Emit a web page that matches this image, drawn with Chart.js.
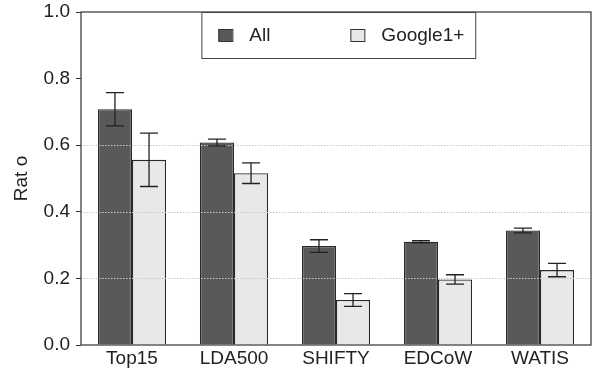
<!DOCTYPE html>
<html>
<head>
<meta charset="utf-8">
<script src="https://cdn.jsdelivr.net/npm/chart.js@4"></script>
<style>
  html, body { margin: 0; padding: 0; background: #fff; }
  #wrap { width: 595px; height: 373px; }
</style>
</head>
<body>
<div id="wrap"><canvas id="chart" width="595" height="373"></canvas></div>
<script>
// === Data ===
const categories = ['Top15', 'LDA500', 'SHIFTY', 'EDCoW', 'WATIS'];
const seriesNames = ['All', 'Google1+'];
const allValues = [0.708, 0.608, 0.297, 0.310, 0.344];
const allErrors = [0.050, 0.010, 0.019, 0.003, 0.007];
const googleValues = [0.556, 0.516, 0.135, 0.197, 0.225];
const googleErrors = [0.080, 0.031, 0.019, 0.014, 0.020];
const yTicks = [0, 0.2, 0.4, 0.6, 0.8, 1.0];
const dottedLines = [0.2, 0.4, 0.6];

const FONT = '"Liberation Sans", Arial, sans-serif';
const INK = '#222';
const FSIZE = 19;

// error bars + dotted grid drawn over the bars
const overlayPlugin = {
    id: 'overlay',
    afterDatasetsDraw(chart) {
        const { ctx, chartArea } = chart;
        const y = chart.scales.y;

        ctx.save();
        ctx.strokeStyle = '#c8c8c8';
        ctx.lineWidth = 1;
        ctx.setLineDash([1.5, 1.5]);
        dottedLines.forEach(v => {
            const py = Math.round(y.getPixelForValue(v)) + 0.5;
            ctx.beginPath();
            ctx.moveTo(chartArea.left, py);
            ctx.lineTo(chartArea.right, py);
            ctx.stroke();
        });
        ctx.restore();

        ctx.save();
        ctx.strokeStyle = INK;
        ctx.lineWidth = 1.3;
        chart.data.datasets.forEach((ds, di) => {
            const meta = chart.getDatasetMeta(di);
            meta.data.forEach((bar, i) => {
                const v = ds.data[i], e = ds.errors[i];
                const top = y.getPixelForValue(v + e);
                const bot = y.getPixelForValue(v - e);
                const x = bar.x, half = 9;
                ctx.beginPath();
                ctx.moveTo(x, top); ctx.lineTo(x, bot);
                ctx.moveTo(x - half, top); ctx.lineTo(x + half, top);
                ctx.moveTo(x - half, bot); ctx.lineTo(x + half, bot);
                ctx.stroke();
            });
        });
        ctx.restore();
    },
    afterDraw(chart) {
        const { ctx, chartArea: a } = chart;
        // frame
        ctx.save();
        ctx.strokeStyle = '#333';
        ctx.lineWidth = 1.2;
        ctx.strokeRect(a.left, a.top, a.right - a.left, a.bottom - a.top);

        // legend box
        const w = a.right - a.left;
        const bx = a.left + w * 0.236, bw = w * 0.537, by = a.top, bh = 46;
        ctx.fillStyle = '#fff';
        ctx.fillRect(bx, by, bw, bh);
        ctx.strokeStyle = '#444';
        ctx.lineWidth = 1;
        ctx.strokeRect(bx + 0.5, by + 0.5, bw, bh);

        const items = chart.data.datasets.map(ds => ({ text: ds.label, fill: ds.backgroundColor }));
        const offsets = [17, 149];
        ctx.font = FSIZE + 'px ' + FONT;
        ctx.textBaseline = 'middle';
        items.forEach((it, i) => {
            const sx = bx + offsets[i];
            const sy = by + 17;
            ctx.fillStyle = it.fill;
            ctx.fillRect(sx, sy, 14, 12);
            ctx.strokeStyle = '#333';
            ctx.strokeRect(sx + 0.5, sy + 0.5, 14, 12);
            ctx.fillStyle = INK;
            ctx.fillText(it.text, sx + 31, sy + 7);
        });
        ctx.restore();
    }
};

new Chart(document.getElementById('chart').getContext('2d'), {
    type: 'bar',
    data: {
        labels: categories,
        datasets: [
            {
                label: seriesNames[0],
                data: allValues,
                errors: allErrors,
                backgroundColor: '#58595b',
                borderColor: '#2a2a2a',
                borderWidth: 1.3
            },
            {
                label: seriesNames[1],
                data: googleValues,
                errors: googleErrors,
                backgroundColor: '#e8e8e8',
                borderColor: '#2a2a2a',
                borderWidth: 1.3
            }
        ]
    },
    options: {
        responsive: false,
        devicePixelRatio: 1,
        animation: false,
        layout: { padding: { top: 12, right: 4, left: 0, bottom: 0 } },
        datasets: { bar: { categoryPercentage: 0.668, barPercentage: 1.0 } },
        plugins: { legend: { display: false }, tooltip: { enabled: false } },
        scales: {
            x: {
                grid: { display: false, drawTicks: false },
                border: { display: false },
                ticks: { color: INK, font: { family: FONT, size: FSIZE }, padding: 2 },
                afterFit(scale) { scale.height = 28; scale.paddingLeft = 0; scale.paddingRight = 0; }
            },
            y: {
                min: 0,
                max: 1,
                afterBuildTicks(scale) { scale.ticks = yTicks.map(v => ({ value: v })); },
                grid: { drawOnChartArea: false, drawTicks: true, tickLength: 5, color: '#333' },
                border: { display: false },
                ticks: {
                    color: INK,
                    font: { family: FONT, size: FSIZE },
                    padding: 6,
                    callback: v => v.toFixed(1)
                },
                title: {
                    display: true,
                    text: 'Rat o',
                    color: INK,
                    font: { family: FONT, size: FSIZE },
                    padding: { top: 10, bottom: 0 }
                },
                afterFit(scale) { scale.width = 81; scale.paddingTop = 0; scale.paddingBottom = 0; }
            }
        }
    },
    plugins: [overlayPlugin]
});
</script>
</body>
</html>
